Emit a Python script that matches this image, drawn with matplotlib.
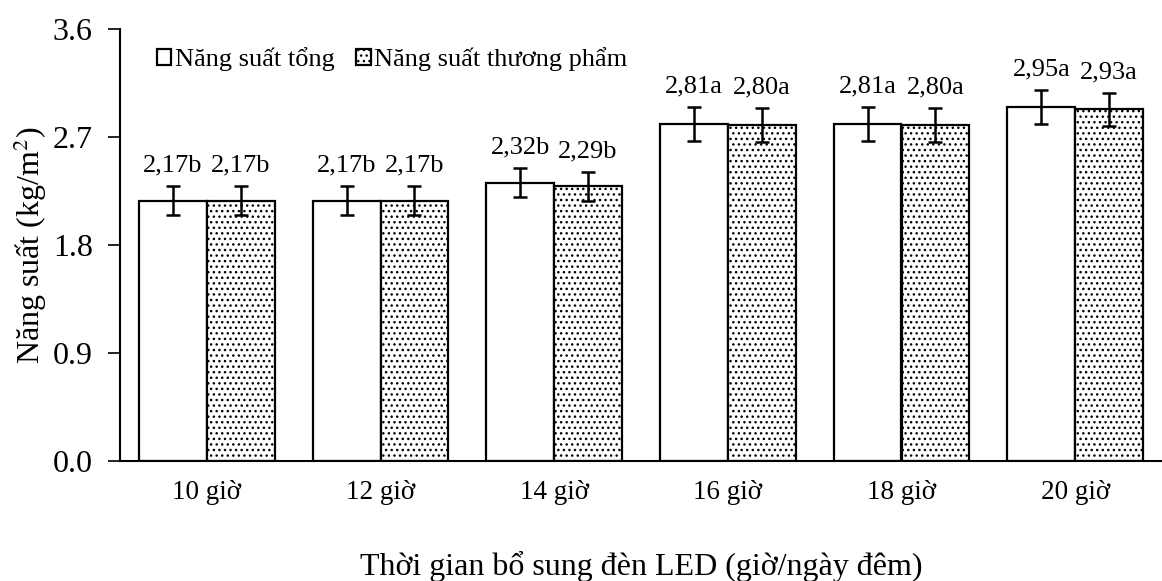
import matplotlib.pyplot as plt
import numpy as np

plt.rcParams['font.family'] = ['Liberation Serif', 'DejaVu Serif']
plt.rcParams['hatch.linewidth'] = 1.0
plt.rcParams['mathtext.fontset'] = 'stix'

groups = ['10 giờ', '12 giờ', '14 giờ', '16 giờ', '18 giờ', '20 giờ']
tong = [2.17, 2.17, 2.32, 2.81, 2.81, 2.95]
thuong_pham = [2.17, 2.17, 2.29, 2.80, 2.80, 2.93]
err_tong = [0.12, 0.12, 0.12, 0.14, 0.14, 0.14]
err_tp = [0.12, 0.12, 0.12, 0.14, 0.14, 0.14]
lbl_tong = ['2,17b', '2,17b', '2,32b', '2,81a', '2,81a', '2,95a']
lbl_tp = ['2,17b', '2,17b', '2,29b', '2,80a', '2,80a', '2,93a']

fig = plt.figure(figsize=(11.62, 5.81), dpi=100)
ax = fig.add_axes([120/1162, 1 - 461/581, 1 - 120/1162, 432/581])

x = np.arange(len(groups))
w = 0.39
ax.bar(x - w/2, tong, w, color='white', edgecolor='black', linewidth=1.6,
       label='Năng suất tổng')
ax.bar(x + w/2, thuong_pham, w, color='white', edgecolor='black', linewidth=1.6,
       hatch='...', label='Năng suất thương phẩm')
ax.errorbar(x - w/2, tong, yerr=err_tong, fmt='none', ecolor='black',
            elinewidth=1.8, capsize=5, capthick=1.8)
ax.errorbar(x + w/2, thuong_pham, yerr=err_tp, fmt='none', ecolor='black',
            elinewidth=1.8, capsize=5, capthick=1.8)

for xi, v, e, s in zip(x - w/2, tong, err_tong, lbl_tong):
    ax.text(xi, v + e + 0.08, s, ha='center', va='bottom', fontsize=19)
for xi, v, e, s in zip(x + w/2, thuong_pham, err_tp, lbl_tp):
    ax.text(xi, v + e + 0.08, s, ha='center', va='bottom', fontsize=19)

ax.set_xlim(-0.5, len(groups) - 0.5)
ax.set_ylim(0, 3.6)
ax.set_yticks([0.0, 0.9, 1.8, 2.7, 3.6])
ax.set_yticklabels(['0.0', '0.9', '1.8', '2.7', '3.6'])
ax.set_xticks(x)
ax.set_xticklabels(groups)
ax.tick_params(axis='y', labelsize=23, direction='out', length=8.5, width=1.2, pad=11)
ax.tick_params(axis='x', labelsize=19.5, length=0, pad=14)
ax.spines['top'].set_visible(False)
ax.spines['right'].set_visible(False)
ax.spines['left'].set_linewidth(1.5)
ax.spines['bottom'].set_linewidth(1.5)

ax.set_ylabel('Năng suất (kg/m$^2$)', fontsize=23, labelpad=3)
ax.set_xlabel('Thời gian bổ sung đèn LED (giờ/ngày đêm)', fontsize=23, labelpad=33)

ax.legend(loc='upper left', ncol=2, frameon=False, fontsize=19,
          handlelength=0.55, handleheight=0.55, handletextpad=0.15,
          columnspacing=0.8, bbox_to_anchor=(0.02, 0.995), borderaxespad=0.2)

fig.savefig('out.png', dpi=100)
